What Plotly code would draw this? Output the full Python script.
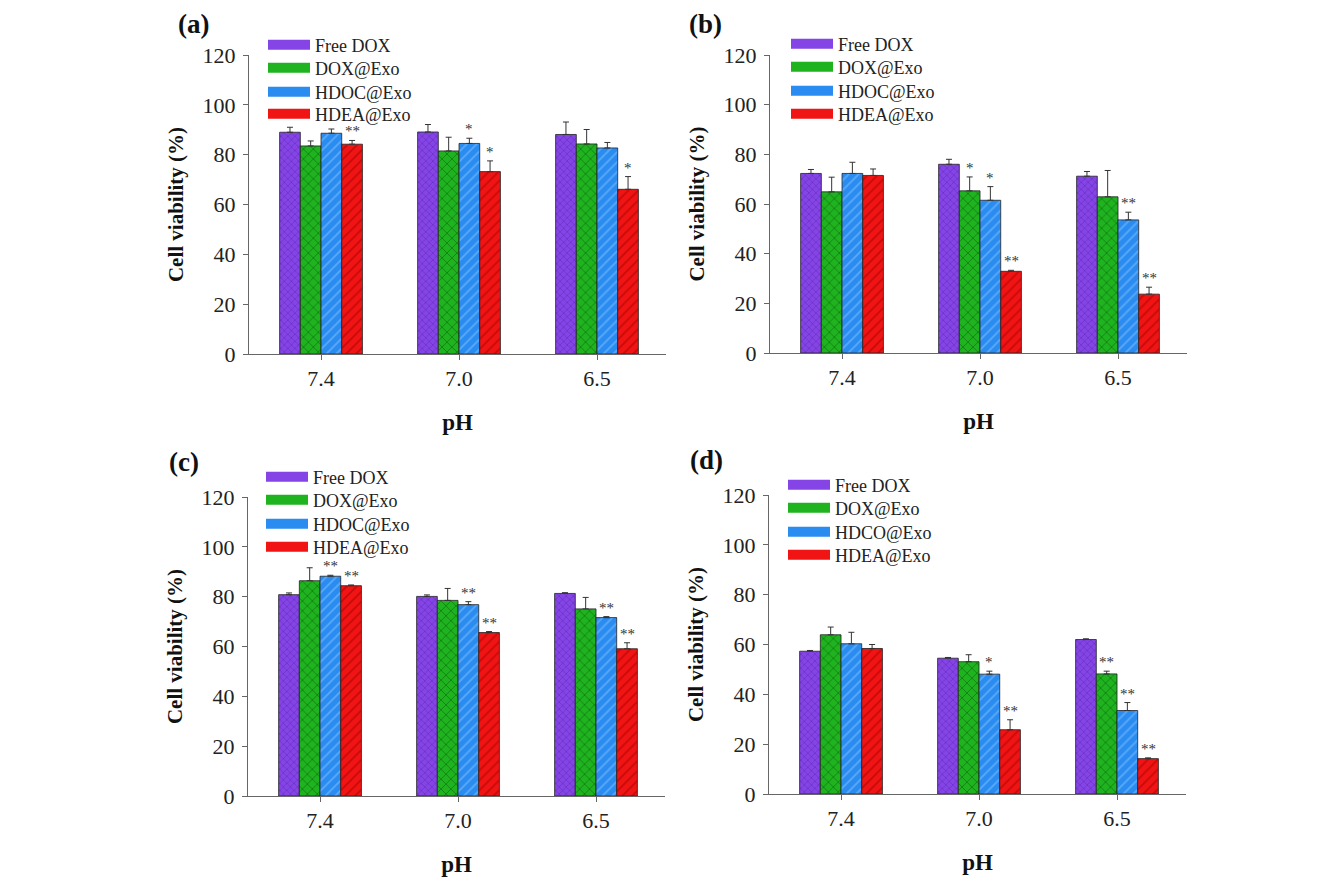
import plotly.graph_objects as go

categories = ["7.4", "7.0", "6.5"]
series_abc = ["Free DOX", "DOX@Exo", "HDOC@Exo", "HDEA@Exo"]
series_d = ["Free DOX", "DOX@Exo", "HDCO@Exo", "HDEA@Exo"]

# panel (a): mean values per series (rows) and pH (columns)
a_mean = [[89.0, 89.1, 88.1], [83.5, 81.5, 84.3], [88.6, 84.5, 82.7], [84.2, 73.2, 66.1]]
a_err = [[2.0, 3.0, 5.0], [2.0, 5.5, 5.8], [1.7, 2.1, 2.2], [1.5, 4.3, 5.1]]
a_star = [["", "", ""], ["", "", ""], ["", "*", ""], ["**", "*", "*"]]

# panel (b)
b_mean = [[72.3, 76.0, 71.2], [64.9, 65.3, 62.9], [72.3, 61.5, 53.6], [71.5, 32.9, 23.7]]
b_err = [[1.6, 2.0, 1.9], [5.9, 5.6, 10.6], [4.5, 5.5, 3.1], [2.6, 0.4, 2.8]]
b_star = [["", "", ""], ["", "*", ""], ["", "*", "**"], ["", "**", "**"]]

# panel (c)
c_mean = [[80.8, 80.1, 81.3], [86.4, 78.5, 75.1], [88.2, 76.8, 71.6], [84.4, 65.6, 59.1]]
c_err = [[0.7, 0.6, 0.3], [5.2, 4.8, 4.6], [0.4, 1.2, 0.4], [0.3, 0.4, 2.4]]
c_star = [["", "", ""], ["", "", ""], ["**", "**", "**"], ["**", "**", "**"]]

# panel (d)
d_mean = [[57.3, 54.5, 62.0], [63.9, 53.1, 48.2], [60.3, 48.1, 33.5], [58.4, 25.8, 14.2]]
d_err = [[0.3, 0.3, 0.3], [3.1, 2.8, 1.1], [4.6, 1.2, 3.2], [1.6, 4.0, 0.3]]
d_star = [["", "", ""], ["", "", "**"], ["", "*", "**"], ["", "**", "**"]]

colors = ["#8545e6", "#1fb31f", "#2a8cf0", "#f01414"]
pat_fg = ["#4d1a9e", "#0b520b", "#8cc8ff", "#a00000"]
pat_shape = ["x", "x", "/", "/"]
pat_size = [5, 7, 7, 7]

SERIF = "Liberation Serif, Times New Roman, serif"
W, H = 1328, 884
OFF = 8  # page body offset


def px(x):
    return (x - OFF) / W


def py(y):
    return 1 - (y - OFF) / H


panels = [
    dict(tag="(a)", mean=a_mean, err=a_err, star=a_star, names=series_abc,
         xr=(249, 666), yr=(55, 354), ax="", lab=(177, None), legx=316, legy=[45, 68, 92, 114]),
    dict(tag="(b)", mean=b_mean, err=b_err, star=b_star, names=series_abc,
         xr=(770, 1187), yr=(55, 353), ax="2", lab=(688, None), legx=839, legy=[44, 67, 91, 114]),
    dict(tag="(c)", mean=c_mean, err=c_err, star=c_star, names=series_abc,
         xr=(248, 665), yr=(497, 796), ax="3", lab=(167, 462), legx=314, legy=[477, 500, 524, 547]),
    dict(tag="(d)", mean=d_mean, err=d_err, star=d_star, names=series_d,
         xr=(769, 1186), yr=(495, 794), ax="4", lab=(688, 460), legx=836, legy=[485, 508, 532, 555]),
]

fig = go.Figure()
annotations = []
layout_upd = {}
xpos = list(range(len(categories)))
nser = 4
bw = 0.6 / nser
legn = 0

for pi, p in enumerate(panels):
    xa = "x" + p["ax"]
    ya = "y" + p["ax"]
    for k in range(nser):
        fig.add_trace(go.Bar(
            x=xpos, y=p["mean"][k], name=p["names"][k], xaxis=xa, yaxis=ya,
            showlegend=False,
            marker=dict(color=colors[k], line=dict(color="#222222", width=0.8),
                        pattern=dict(shape=pat_shape[k], fgcolor=pat_fg[k], bgcolor=colors[k],
                                     size=pat_size[k], solidity=0.25)),
            error_y=dict(type="data", symmetric=False, array=p["err"][k],
                         arrayminus=[0] * len(categories), color="#333333",
                         thickness=1, width=3),
        ))
        legn += 1
        legname = "legend" if legn == 1 else "legend%d" % legn
        fig.add_trace(go.Scatter(
            x=[None], y=[None], mode="lines", name=p["names"][k], xaxis=xa, yaxis=ya,
            line=dict(color=colors[k], width=10), legend=legname, showlegend=True,
        ))
        layout_upd[legname] = dict(
            x=px(p["legx"] - 53), y=py(p["legy"][k]), xanchor="left", yanchor="middle",
            bgcolor="rgba(0,0,0,0)", borderwidth=0, itemwidth=42,
            font=dict(family=SERIF, size=18, color="#222222"))
        for i in range(len(categories)):
            s = p["star"][k][i]
            if s:
                annotations.append(dict(
                    x=xpos[i] + (k - 1.5) * bw, y=p["mean"][k][i] + p["err"][k][i],
                    xref=xa, yref=ya, text=s, showarrow=False, yanchor="bottom",
                    yshift=-1, font=dict(family=SERIF, size=15, color="#333333")))
    if p["lab"][1] is None:
        annotations.append(dict(
            x=px(p["lab"][0]), y=1, xref="paper", yref="paper", borderpad=0,
            text="<b>" + p["tag"] + "</b>", showarrow=False, xanchor="left", yanchor="top",
            font=dict(family=SERIF, size=27, color="#111111")))
    else:
        annotations.append(dict(
            x=px(p["lab"][0]), y=py(p["lab"][1]), xref="paper", yref="paper",
            text="<b>" + p["tag"] + "</b>", showarrow=False, xanchor="left", yanchor="middle",
            font=dict(family=SERIF, size=27, color="#111111")))

    axis_common = dict(showline=True, linecolor="#666666", linewidth=1, ticks="outside",
                       ticklen=5, tickcolor="#666666", showgrid=False, zeroline=False,
                       tickfont=dict(family=SERIF, size=22, color="#222222"))
    layout_upd["xaxis" + p["ax"]] = dict(
        domain=[px(p["xr"][0]), px(p["xr"][1])], range=[-0.522, 2.5],
        tickvals=xpos, ticktext=categories, anchor=ya,
        title=dict(text="<b>pH</b>", standoff=23,
                   font=dict(family=SERIF, size=23, color="#111111")),
        **axis_common)
    layout_upd["yaxis" + p["ax"]] = dict(
        domain=[py(p["yr"][1]), py(p["yr"][0])], range=[0, 120], dtick=20, anchor=xa,
        ticklabelstandoff=3,
        title=dict(text="<b>Cell viability (%)</b>", standoff=13,
                   font=dict(family=SERIF, size=21, color="#111111")),
        **axis_common)

fig.update_layout(**layout_upd)
fig.update_layout(
    width=W, height=H, margin=dict(l=0, r=0, t=0, b=0, autoexpand=False),
    paper_bgcolor="white", plot_bgcolor="white",
    barmode="group", bargap=0.4, bargroupgap=0,
    annotations=annotations, showlegend=True,
)

fig.write_html("out.html")
